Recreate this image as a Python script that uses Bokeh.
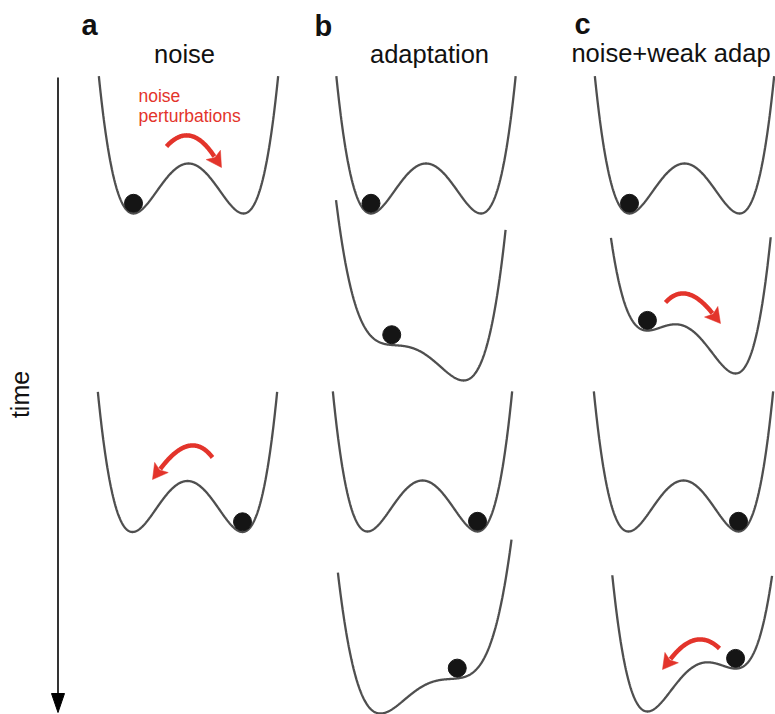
import numpy as np
from bokeh.plotting import figure
from bokeh.models import Range1d
from bokeh.core.properties import value
from bokeh.embed import file_html
from bokeh.resources import INLINE

# ---------------- data ----------------
panel_letters = ["a", "b", "c"]
panel_titles = ["noise", "adaptation", "noise+weak adap"]
axis_label = "time"
note_lines = ["noise", "perturbations"]

# energy landscapes  h(u) = (u^2 - 1)^2 + tilt * u
land_col = ["a", "a", "b", "b", "b", "b", "c", "c", "c", "c"]
land_row = [1, 3, 1, 2, 3, 4, 1, 2, 3, 4]
land_tilt = [0.0, 0.0, 0.0, -1.8, 0.0, 1.8, 0.0, -0.9, 0.0, 0.9]
ball_u = [-1.0, 1.0, -1.0, -0.70, 1.0, 0.78, -1.0, -0.86, 1.0, 0.86]
# noise kicks drawn on these landscapes (index into the lists above)
kick_land = [0, 1, 7, 9]

# ---------------- layout (pixel frame of the figure) ----------------
L_cx = [188, 187, 425.5, 417.4, 422, 427, 684, 685.6, 683, 696.4]
L_ymin = [213, 531.5, 213, 380, 531, 713, 213, 373, 531, 711]
L_sx = [55, 55, 55, 38.8, 55, 40, 55, 45, 55, 45]
L_sy = [50, 51, 50, 10.2, 51, 10.0, 50, 24, 51, 24]
L_ulo = [-1.63, -1.63, -1.63, -2.11, -1.63, -2.24, -1.63, -1.67, -1.63, -1.88]
L_uhi = [1.63, 1.63, 1.63, 2.26, 1.63, 2.10, 1.63, 1.88, 1.63, 1.67]

# kick arrows: start, control, tip
K_start = [(166, 146), (212, 457), (665, 302), (719, 648)]
K_ctrl = [(190, 119.5), (190, 428), (685.5, 279.5), (695.5, 625.5)]
K_tip = [(221, 167), (152, 479), (720, 323), (662, 669)]

letter_xy = [(81, 24), (314, 25), (574, 23)]
title_xy = [(184, 53), (429, 53), (670.5, 52)]
note_xy = [(138, 95), (138, 115.5)]
time_xy = (19, 394)

CURVE = "#4f4f4f"
BALL = "#151515"
RED = "#e3342b"
FONT = value("Liberation Sans")


def h(u, t):
    return (u * u - 1.0) ** 2 + t * u


def dh(u, t):
    return 4 * u ** 3 - 4 * u + t


p = figure(width=775, height=714, x_range=Range1d(0, 775), y_range=Range1d(714, 0),
           output_backend="svg", toolbar_location=None, min_border=0,
           outline_line_color=None, x_axis_location=None, y_axis_location=None,
           background_fill_color="white", border_fill_color="white")
p.grid.visible = False

# landscapes and balls
bx, by = [], []
for i in range(len(land_tilt)):
    t = land_tilt[i]
    u = np.linspace(L_ulo[i], L_uhi[i], 400)
    hv = h(u, t)
    hmin = hv.min()
    xs = L_cx[i] + L_sx[i] * u
    ys = L_ymin[i] - L_sy[i] * (hv - hmin)
    p.line(xs, ys, line_color=CURVE, line_width=2.3)

    ub = ball_u[i]
    cx = L_cx[i] + L_sx[i] * ub
    cy = L_ymin[i] - L_sy[i] * (h(ub, t) - hmin)
    nx, ny = -L_sy[i] * dh(ub, t), -L_sx[i]
    n = np.hypot(nx, ny)
    bx.append(cx + 10.2 * nx / n)
    by.append(cy + 10.2 * ny / n)

p.scatter(bx, by, size=18, marker="circle", fill_color=BALL, line_color=BALL)

# red kick arrows
HL, HW = 15.0, 17.0
for k in range(len(kick_land)):
    P0 = np.array(K_start[k], float)
    C = np.array(K_ctrl[k], float)
    T = np.array(K_tip[k], float)
    d = (T - C) / np.linalg.norm(T - C)
    base = T - HL * d
    s = np.linspace(0, 1, 60)[:, None]
    pts = (1 - s) ** 2 * P0 + 2 * (1 - s) * s * C + s ** 2 * (base + 2 * d)
    p.line(pts[:, 0], pts[:, 1], line_color=RED, line_width=4.5)
    perp = np.array([-d[1], d[0]])
    c1 = base + perp * HW / 2
    c2 = base - perp * HW / 2
    notch = base + 3 * d
    p.patch([T[0], c1[0], notch[0], c2[0]], [T[1], c1[1], notch[1], c2[1]],
            fill_color=RED, line_color=RED, line_width=0.5)

# time axis
p.line([57.5, 57.5], [77, 697], line_color="black", line_width=1.6)
p.patch([51, 64, 57.5], [693, 693, 712], fill_color="black", line_color="black")

# texts
p.text(x=[q[0] for q in letter_xy], y=[q[1] for q in letter_xy], text=panel_letters,
       text_font=FONT, text_font_size=value("29px"), text_font_style="bold",
       text_align="left", text_baseline="alphabetic", text_color="#111111")
p.text(x=[q[0] for q in title_xy], y=[q[1] for q in title_xy], text=panel_titles,
       text_font=FONT, text_font_size=value("25.5px"),
       text_align="center", text_baseline="alphabetic", text_color="#111111")
p.text(x=[q[0] for q in note_xy], y=[q[1] for q in note_xy], text=note_lines,
       text_font=FONT, text_font_size=value("17.5px"),
       text_align="left", text_baseline="alphabetic", text_color=RED)
p.text(x=[time_xy[0]], y=[time_xy[1]], text=[axis_label], angle=np.pi / 2,
       text_font=FONT, text_font_size=value("25px"),
       text_align="center", text_baseline="alphabetic", text_color="#111111")

open("out.html", "w").write(file_html(p, INLINE))
